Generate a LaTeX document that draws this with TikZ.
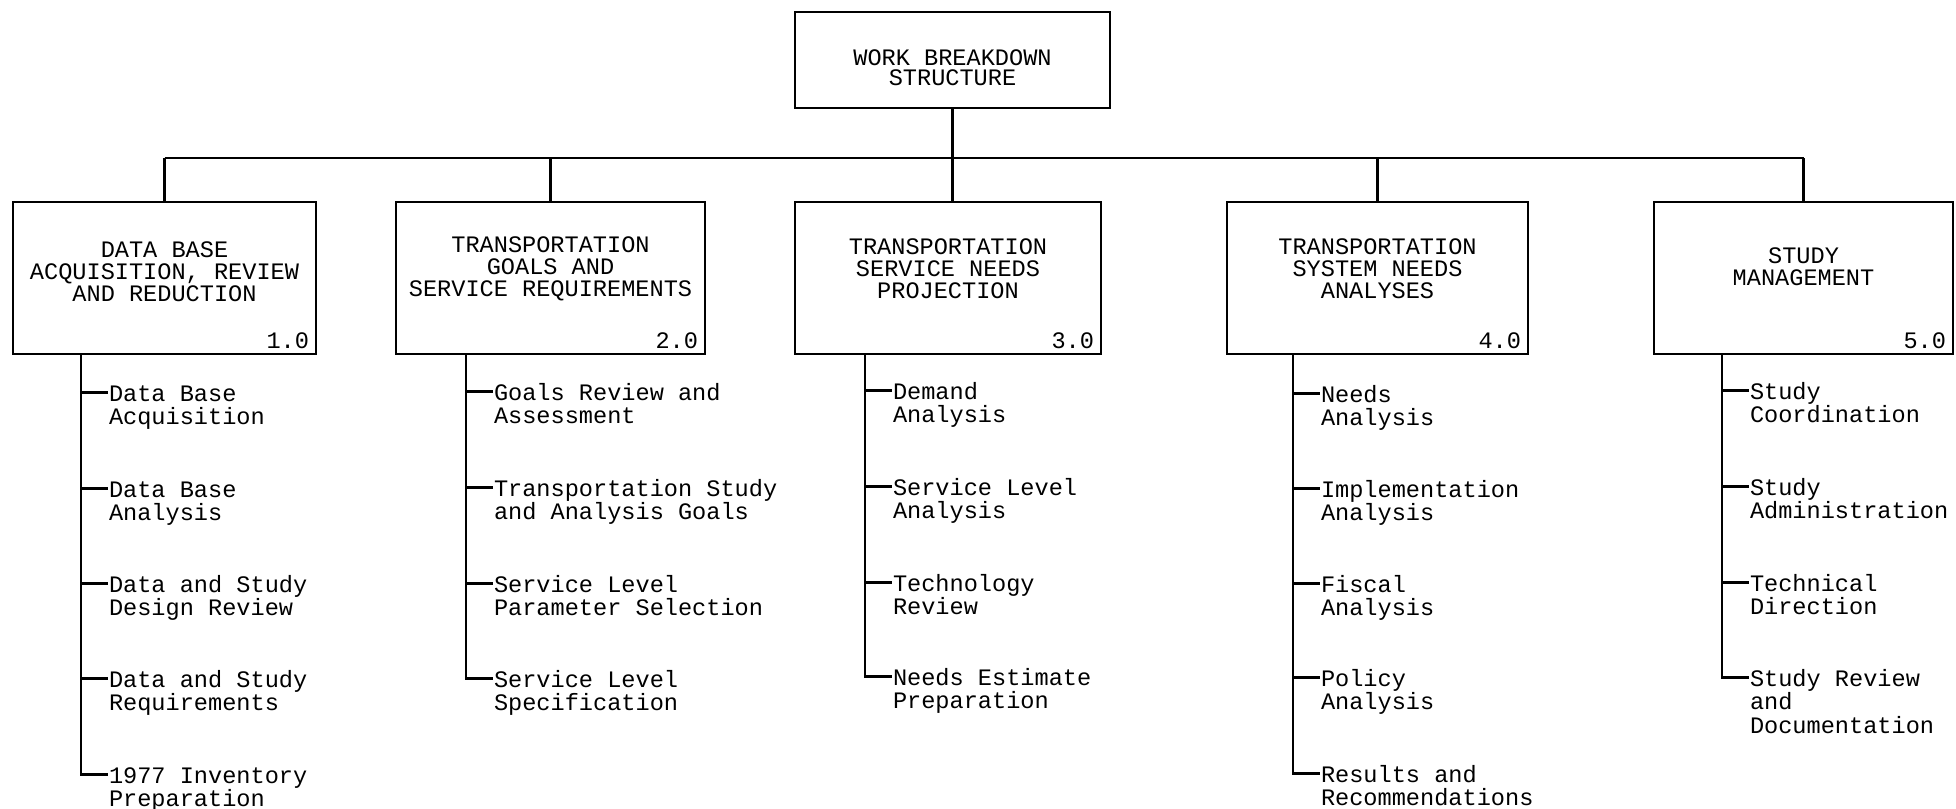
\documentclass[tikz,border=0pt]{standalone}
\usepackage{fontspec}
\newfontfamily\tw{Liberation Mono}
\begin{document}
\begin{tikzpicture}[x=0.5pt,y=-0.5pt,
  line width=1.25pt,
  box/.style={draw, rectangle, minimum height=76pt, inner sep=0pt},
  ttl/.style={font=\tw\fontsize{11.8}{11}\selectfont, align=center, inner sep=0pt},
  num/.style={font=\tw\fontsize{11.8}{11.75}\selectfont, anchor=base east, inner sep=0pt},
  item/.style={font=\tw\fontsize{11.8}{11.75}\selectfont, align=left, anchor=north west, inner sep=0pt, yshift=6.2pt},
]
\useasboundingbox (0,0) rectangle (1956,809);

% root
\node[box, minimum width=157.5pt, minimum height=48pt] (top) at (952.5,60) {};
\node[ttl, font=\tw\fontsize{11.8}{10}\selectfont] (topt) at ([yshift=-3.75pt]top.center) {WORK BREAKDOWN\\STRUCTURE};

% level-one boxes
\node[box, minimum width=151.5pt] (b1) at (164.5,278) {};
\node[box, minimum width=154.5pt] (b2) at (550.5,278) {};
\node[box, minimum width=153pt]   (b3) at (948,278) {};
\node[box, minimum width=150.5pt] (b4) at (1377.5,278) {};
\node[box, minimum width=149.5pt] (b5) at (1803.5,278) {};

\node[ttl] (t1) at ([yshift=3pt]b1.center) {DATA BASE\\ACQUISITION, REVIEW\\AND REDUCTION};
\node[ttl] (t2) at ([yshift=4.5pt]b2.center) {TRANSPORTATION\\GOALS AND\\SERVICE REQUIREMENTS};
\node[ttl] (t3) at ([yshift=4.5pt]b3.center) {TRANSPORTATION\\SERVICE NEEDS\\PROJECTION};
\node[ttl] (t4) at ([yshift=4.5pt]b4.center) {TRANSPORTATION\\SYSTEM NEEDS\\ANALYSES};
\node[ttl] (t5) at ([yshift=5.5pt]b5.center) {STUDY\\MANAGEMENT};

\foreach \b/\n in {b1/1.0, b2/2.0, b3/3.0, b4/4.0, b5/5.0}
  \node[num] (\b n) at ([xshift=-3.5pt,yshift=3.5pt]\b.south east) {\n};

% bus connecting root to level one
\coordinate (bus) at (0,158);
\draw (b1.north |- bus) -- (b5.north |- bus);
\draw (top.south) -- (top.south |- b3.north);
\foreach \b in {b1,b2,b4,b5}
  \draw (\b.north) -- (\b.north |- bus);

% spines under each box
\coordinate (s1) at ([xshift=34.5pt]b1.south west);
\coordinate (s2) at ([xshift=35.5pt]b2.south west);
\coordinate (s3) at ([xshift=35.5pt]b3.south west);
\coordinate (s4) at ([xshift=33.5pt]b4.south west);
\coordinate (s5) at ([xshift=34.5pt]b5.south west);

% one column of work items: ticks from the spine to each item
\newcommand\wbscol[2]{%
  \foreach \y/\t [count=\i] in {#2} {
    \node[item] (c#1-\i) at ([shift={(27,\y-354)}]s#1) {\rule{0pt}{10pt}\t};
    \draw ([shift={(0,\y-354)}]s#1) -- ([yshift=-6.2pt]c#1-\i.north west);
  }}

\wbscol{1}{391/{Data Base\\Acquisition}, 487/{Data Base\\Analysis}, 582/{Data and Study\\Design Review}, 677/{Data and Study\\Requirements}, 773/{1977 Inventory\\Preparation}}
\wbscol{2}{390/{Goals Review and\\Assessment}, 486/{Transportation Study\\and Analysis Goals}, 582/{Service Level\\Parameter Selection}, 677/{Service Level\\Specification}}
\wbscol{3}{389/{Demand\\Analysis}, 485/{Service Level\\Analysis}, 581/{Technology\\Review}, 675/{Needs Estimate\\Preparation}}
\wbscol{4}{392/{Needs\\Analysis}, 487/{Implementation\\Analysis}, 582/{Fiscal\\Analysis}, 676/{Policy\\Analysis}, 772/{Results and\\Recommendations}}
\wbscol{5}{389/{Study\\Coordination}, 485/{Study\\Administration}, 581/{Technical\\Direction}, 676/{Study Review\\and\\Documentation}}

\draw (s1) |- ([yshift=-6.2pt]c1-5.north west);
\draw (s2) |- ([yshift=-6.2pt]c2-4.north west);
\draw (s3) |- ([yshift=-6.2pt]c3-4.north west);
\draw (s4) |- ([yshift=-6.2pt]c4-5.north west);
\draw (s5) |- ([yshift=-6.2pt]c5-4.north west);
\end{tikzpicture}
\end{document}
